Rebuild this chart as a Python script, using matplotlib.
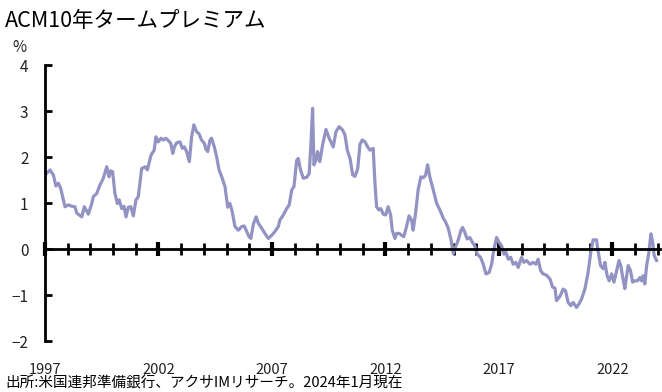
import matplotlib
matplotlib.use("Agg")
import matplotlib.pyplot as plt
import matplotlib.transforms as mtransforms
from matplotlib.ticker import MultipleLocator

plt.rcParams['font.family'] = ['Noto Sans CJK JP', 'DejaVu Sans']

# ACM 10年タームプレミアム (%), 読み取り値
years = [
    1997.00, 1997.22, 1997.37, 1997.48, 1997.59, 1997.69, 1997.81, 1997.88, 1998.03, 1998.18,
    1998.32, 1998.40, 1998.62, 1998.73, 1998.91, 1999.06, 1999.13, 1999.28, 1999.42, 1999.57,
    1999.72, 1999.82, 1999.89, 1999.98, 2000.08, 2000.19, 2000.27, 2000.38, 2000.48, 2000.57,
    2000.67, 2000.78, 2000.89, 2001.01, 2001.11, 2001.26, 2001.41, 2001.51, 2001.67, 2001.81,
    2001.89, 2001.99, 2002.11, 2002.21, 2002.32, 2002.43, 2002.54, 2002.63, 2002.70, 2002.80,
    2002.95, 2003.05, 2003.14, 2003.24, 2003.36, 2003.46, 2003.56, 2003.68, 2003.78, 2003.90,
    2004.02, 2004.09, 2004.17, 2004.27, 2004.34, 2004.46, 2004.56, 2004.67, 2004.81, 2004.93,
    2005.05, 2005.15, 2005.25, 2005.37, 2005.52, 2005.67, 2005.78, 2005.89, 2005.99, 2006.07,
    2006.18, 2006.30, 2006.40, 2006.55, 2006.69, 2006.84, 2006.99, 2007.13, 2007.28, 2007.35,
    2007.50, 2007.65, 2007.76, 2007.87, 2007.97, 2008.09, 2008.16, 2008.26, 2008.38, 2008.53,
    2008.64, 2008.72, 2008.79, 2008.85, 2008.94, 2009.01, 2009.11, 2009.23, 2009.38, 2009.52,
    2009.70, 2009.82, 2009.96, 2010.11, 2010.22, 2010.32, 2010.44, 2010.56, 2010.66, 2010.78,
    2010.88, 2010.98, 2011.10, 2011.22, 2011.32, 2011.39, 2011.46, 2011.54, 2011.61, 2011.71,
    2011.80, 2011.90, 2012.01, 2012.12, 2012.23, 2012.30, 2012.42, 2012.49, 2012.61, 2012.71,
    2012.81, 2012.93, 2013.04, 2013.15, 2013.22, 2013.33, 2013.44, 2013.56, 2013.67, 2013.77,
    2013.86, 2013.96, 2014.11, 2014.26, 2014.40, 2014.55, 2014.65, 2014.77, 2014.89, 2014.99,
    2015.09, 2015.21, 2015.33, 2015.40, 2015.50, 2015.60, 2015.72, 2015.84, 2015.94, 2016.04,
    2016.19, 2016.31, 2016.43, 2016.57, 2016.68, 2016.78, 2016.90, 2017.01, 2017.12, 2017.22,
    2017.31, 2017.41, 2017.52, 2017.63, 2017.75, 2017.85, 2018.00, 2018.10, 2018.22, 2018.37,
    2018.51, 2018.63, 2018.73, 2018.84, 2018.95, 2019.10, 2019.25, 2019.37, 2019.47, 2019.54,
    2019.69, 2019.83, 2019.94, 2020.05, 2020.17, 2020.27, 2020.42, 2020.52, 2020.64, 2020.79,
    2020.93, 2021.05, 2021.15, 2021.30, 2021.38, 2021.48, 2021.60, 2021.67, 2021.77, 2021.86,
    2021.97, 2022.07, 2022.19, 2022.29, 2022.37, 2022.47, 2022.55, 2022.63, 2022.70, 2022.80,
    2022.89, 2022.99, 2023.11, 2023.21, 2023.29, 2023.36, 2023.43, 2023.51, 2023.61, 2023.70,
    2023.78, 2023.84, 2023.95,
]
premium = [
    1.61, 1.72, 1.61, 1.37, 1.43, 1.32, 1.07, 0.92, 0.96, 0.93,
    0.92, 0.78, 0.70, 0.92, 0.76, 0.99, 1.14, 1.21, 1.39, 1.54,
    1.79, 1.57, 1.70, 1.68, 1.21, 0.99, 1.07, 0.88, 0.93, 0.70,
    0.91, 0.92, 0.72, 1.07, 1.14, 1.75, 1.79, 1.72, 2.04, 2.15,
    2.44, 2.33, 2.41, 2.37, 2.41, 2.36, 2.30, 2.08, 2.22, 2.31,
    2.33, 2.19, 2.22, 2.12, 1.90, 2.44, 2.70, 2.55, 2.51, 2.37,
    2.30, 2.17, 2.12, 2.37, 2.41, 2.22, 2.01, 1.72, 1.54, 1.36,
    0.91, 0.99, 0.81, 0.49, 0.41, 0.49, 0.50, 0.38, 0.27, 0.23,
    0.54, 0.70, 0.56, 0.45, 0.34, 0.23, 0.30, 0.38, 0.49, 0.63,
    0.74, 0.88, 0.96, 1.28, 1.36, 1.93, 1.97, 1.72, 1.54, 1.56,
    1.64, 2.30, 3.06, 1.83, 1.93, 2.12, 1.90, 2.26, 2.60, 2.41,
    2.22, 2.55, 2.66, 2.59, 2.48, 2.15, 1.97, 1.61, 1.58, 1.75,
    2.28, 2.37, 2.33, 2.22, 2.15, 2.17, 2.19, 1.43, 0.92, 0.85,
    0.88, 0.76, 0.74, 0.92, 0.74, 0.41, 0.23, 0.34, 0.34, 0.30,
    0.27, 0.49, 0.72, 0.63, 0.41, 0.78, 1.28, 1.57, 1.55, 1.61,
    1.83, 1.56, 1.28, 0.99, 0.85, 0.67, 0.59, 0.45, 0.20, -0.10,
    0.05, 0.20, 0.41, 0.47, 0.36, 0.22, 0.25, 0.14, 0.07, -0.11,
    -0.18, -0.33, -0.54, -0.51, -0.33, 0.00, 0.25, 0.14, 0.07, -0.11,
    -0.07, -0.22, -0.18, -0.33, -0.29, -0.40, -0.18, -0.29, -0.25, -0.33,
    -0.29, -0.33, -0.22, -0.47, -0.54, -0.57, -0.65, -0.83, -0.85, -1.12,
    -1.03, -0.87, -0.91, -1.16, -1.23, -1.16, -1.27, -1.20, -1.09, -0.87,
    -0.51, -0.07, 0.20, 0.20, -0.07, -0.36, -0.43, -0.29, -0.58, -0.69,
    -0.54, -0.72, -0.47, -0.25, -0.36, -0.65, -0.86, -0.58, -0.36, -0.47,
    -0.72, -0.69, -0.69, -0.62, -0.69, -0.58, -0.76, -0.36, -0.07, 0.33,
    0.14, -0.14, -0.25,
]
year_labels = [1997, 2002, 2007, 2012, 2017, 2022]

fig = plt.figure(figsize=(6.62, 3.92), dpi=100)
ax = fig.add_axes([0.068, 0.130, 0.929, 0.704])

ax.plot(years, premium, color='#9393c3', linewidth=2.3, solid_joinstyle='round')

ax.set_xlim(1997, 2024.1)
ax.set_ylim(-2, 4)

for s in ['top', 'right']:
    ax.spines[s].set_visible(False)
ax.spines['bottom'].set_position(('data', 0))
ax.spines['bottom'].set_linewidth(2)
ax.spines['left'].set_linewidth(2)

ax.set_yticks(range(-2, 5))
ax.tick_params(axis='y', direction='in', length=5, width=2, labelsize=11, pad=12,
               labelcolor='#222222')
ax.set_xticks(year_labels)
ax.xaxis.set_minor_locator(MultipleLocator(1))
ax.tick_params(axis='x', which='major', direction='inout', length=10, width=3,
               labelbottom=False)
ax.tick_params(axis='x', which='minor', direction='inout', length=8, width=2)

# 年ラベルは軸の下端に
trans = mtransforms.blended_transform_factory(ax.transData, fig.transFigure)
for yr in year_labels:
    ax.text(yr, 0.047, str(yr), transform=trans, ha='center', va='baseline',
            fontsize=10.5, color='#222222')

fig.text(0.008, 0.947, 'ACM10年タームプレミアム', fontsize=15.5, ha='left', va='center')
fig.text(0.03, 0.880, '%', fontsize=11, ha='center', va='center', color='#222222')
fig.text(0.008, 0.011, '出所:米国連邦準備銀行、アクサIMリサーチ。2024年1月現在',
         fontsize=10.5, style='italic', ha='left', va='baseline')

fig.savefig('out.png', dpi=100)
